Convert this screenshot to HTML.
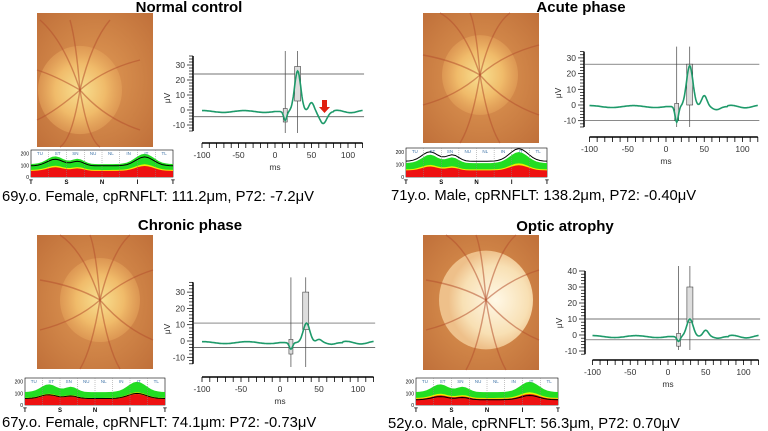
<!DOCTYPE html><html><head><meta charset="utf-8"><style>
body{margin:0;background:#fff;width:768px;height:431px;overflow:hidden;font-family:"Liberation Sans",sans-serif}
svg{position:absolute;left:0;top:0}
</style></head><body>
<svg id="s" width="768" height="431" xmlns="http://www.w3.org/2000/svg">
<defs>
<radialGradient id="f1" cx="0.5" cy="0.5" r="0.7"><stop offset="0" stop-color="#e09a55"/><stop offset="1" stop-color="#c0703a"/></radialGradient>
<radialGradient id="d1" cx="0.5" cy="0.5" r="0.5"><stop offset="0" stop-color="#f8e090"/><stop offset="0.6" stop-color="#f0bb6a"/><stop offset="1" stop-color="#e4a25a" stop-opacity="0.6"/></radialGradient>
<radialGradient id="d2" cx="0.6" cy="0.5" r="0.5"><stop offset="0" stop-color="#fff8e6"/><stop offset="0.7" stop-color="#f8e0b4"/><stop offset="1" stop-color="#eec08a"/></radialGradient>
</defs>
<g id="g"></g>
</svg>
<script>
var g=document.getElementById('g'),h='';
function T(x,y,t,sz,a,w,f){h+='<text x="'+x+'" y="'+y+'" font-size="'+sz+'" text-anchor="'+(a||'start')+'" font-weight="'+(w||'normal')+'" fill="'+(f||'#000')+'" font-family="Liberation Sans,sans-serif">'+t+'</text>';}
function fundus(x,y,w,hh,dx,dy,dr,grad){
 h+='<rect x="'+x+'" y="'+y+'" width="'+w+'" height="'+hh+'" fill="url(#f1)"/>';
 h+='<ellipse cx="'+dx+'" cy="'+dy+'" rx="'+dr+'" ry="'+(dr*1.05)+'" fill="url(#'+grad+')"/>';
 var v=[[-40,-70],[-10,-70],[30,-70],[60,-30],[60,40],[20,70],[-20,70],[-60,30],[-60,-20]];
 v.forEach(function(p){h+='<path d="M'+dx+' '+dy+' Q'+(dx+p[0]*0.4)+' '+(dy+p[1]*0.7)+' '+Math.max(x,Math.min(x+w,dx+p[0]))+' '+Math.max(y,Math.min(y+hh,dy+p[1]))+'" stroke="#b4502e" stroke-width="1.4" fill="none" opacity="0.55"/>';});
}
function oct(x,y,w,hh,lowBlack){
 var sec=['TU','ST','SN','NU','NL','IN','IT','TL'];
 h+='<rect x="'+x+'" y="'+y+'" width="'+w+'" height="'+hh+'" fill="#fff" stroke="#000" stroke-width="0.6"/>';
 function f(t,a){return a*(1+0.6*Math.exp(-Math.pow((t-0.17)/0.08,2))+0.4*Math.exp(-Math.pow((t-0.33)/0.06,2))+0.8*Math.exp(-Math.pow((t-0.8)/0.09,2)));}
 var b=y+hh,sc=hh/230;
 function poly(a,col,lw,fill){var p='';for(var i=0;i<=40;i++){var t=i/40;p+=(x+t*w).toFixed(1)+','+(b-f(t,a)*sc).toFixed(1)+' ';}
  if(fill)h+='<polygon points="'+x+','+b+' '+p+(x+w)+','+b+'" fill="'+col+'"/>';else h+='<polyline points="'+p+'" fill="none" stroke="'+col+'" stroke-width="'+lw+'"/>';}
 poly(110,'#22dd22',0,1);poly(60,'#eeee00',0,1);poly(52,'#ee1111',0,1);
 poly(lowBlack,'#000',1);
 for(var i=1;i<8;i++)h+='<line x1="'+(x+i*w/8)+'" y1="'+y+'" x2="'+(x+i*w/8)+'" y2="'+b+'" stroke="#888" stroke-dasharray="1,1" stroke-width="0.5"/>';
 sec.forEach(function(s,i){T(x+(i+0.5)*w/8,y+5,s,4.5,'middle','normal','#4477aa');});
 [0,100,200].forEach(function(v){T(x-2,b-v*sc+2,v,5,'end');});
 ['T','S','N','I','T'].forEach(function(s,i){T(x+i*w/4,b+7,s,6,'middle','bold');});
}
function chart(o){
 var ax=o.ax,Y=function(v){return o.y0-v*o.py},X=function(t){return o.x0+t*o.px};
 h+='<line x1="'+ax+'" y1="'+Y(o.ymax)+'" x2="'+ax+'" y2="'+Y(o.ymin)+'" stroke="#000" stroke-width="1.5"/>';
 for(var v=Math.ceil(o.ymin/2)*2;v<=o.ymax;v+=2){var L=(v%10==0)?6:4;h+='<line x1="'+ax+'" y1="'+Y(v)+'" x2="'+(ax-L)+'" y2="'+Y(v)+'" stroke="#000" stroke-width="0.7"/>';}
 for(var v=Math.ceil(o.ymin/10)*10;v<=o.ymax;v+=10)T(ax-8,Y(v)+3,v,8.5,'end','normal','#333');
 h+='<text x="0" y="0" font-size="8.5" fill="#333" transform="translate('+(ax-23)+','+(o.y0-12)+') rotate(-90)" text-anchor="middle">μV</text>';
 h+='<line x1="'+X(-100)+'" y1="'+o.xy+'" x2="'+X(120)+'" y2="'+o.xy+'" stroke="#000" stroke-width="1.5"/>';
 for(var t=-100;t<=120;t+=10)h+='<line x1="'+X(t)+'" y1="'+o.xy+'" x2="'+X(t)+'" y2="'+(o.xy+5)+'" stroke="#000" stroke-width="0.8"/>';
 [-100,-50,0,50,100].forEach(function(t){T(X(t),o.xy+15,t,8.5,'middle','normal','#333');});
 T(X(0),o.xy+27,'ms',8.5,'middle','normal','#333');
 o.hl.forEach(function(v){h+='<line x1="'+ax+'" y1="'+Y(v)+'" x2="'+X(122)+'" y2="'+Y(v)+'" stroke="#444" stroke-width="0.7"/>';});
 o.vl.forEach(function(t){h+='<line x1="'+X(t)+'" y1="'+(Y(o.ymax)-5)+'" x2="'+X(t)+'" y2="'+(o.xy-10)+'" stroke="#444" stroke-width="0.7"/>';});
 h+='<rect x="'+(X(o.vl[0])-2)+'" y="'+Y(o.b1[1])+'" width="4" height="'+((o.b1[1]-o.b1[0])*o.py)+'" fill="#ddd" stroke="#444" stroke-width="0.6"/>';
 h+='<rect x="'+(X(o.vl[1])-3)+'" y="'+Y(o.b2[1])+'" width="6" height="'+((o.b2[1]-o.b2[0])*o.py)+'" fill="#ddd" stroke="#444" stroke-width="0.6"/>';
 var p='';for(var t=-100;t<=120;t+=1){var v=o.w(t);p+=X(t).toFixed(1)+','+Y(v).toFixed(1)+' ';}
 h+='<polyline points="'+p+'" fill="none" stroke="#1e9a6a" stroke-width="1.6"/>';
}
function G(t,c,s){return Math.exp(-Math.pow((t-c)/s,2));}
function wave(n,p,w2,d,pk){pk=pk||31;return function(t){return -1+0.6*Math.sin(t/9)*(t<0?1:0)-n*G(t,14,3)+p*G(t,pk,6)+w2*G(t,50,5)-d*G(t,66,7)+(t>80?0.8*Math.sin(t/6):0);};}
// panel 1
T(189,12,'Normal control',15,'middle','bold');
fundus(37,13,116,134,80,90,42,'d1');
oct(31,150,142,27,95);
T(2,201,'69y.o. Female, cpRNFLT: 111.2μm, P72: -7.2μV',14.8);
chart({ax:193,y0:110,py:1.5,ymin:-14,ymax:36,xy:143,x0:275,px:0.73,hl:[24,-4.5],vl:[14,31],b1:[-8,1],b2:[6,29],w:wave(6,27,6,8)});
h+='<path d="M322 100 h5 v7 h3 l-5.5 6 l-5.5 -6 h3z" fill="#e02010"/>';
// panel 2
T(581,12,'Acute phase',15,'middle','bold');
fundus(423,13,116,130,480,75,38,'d1');
oct(406,148,141,29,125);
T(391,200,'71y.o. Male, cpRNFLT: 138.2μm, P72: -0.40μV',14.8);
chart({ax:584,y0:105,py:1.57,ymin:-14,ymax:34,xy:137,x0:666,px:0.765,hl:[26,-10],vl:[14,31],b1:[-10,1],b2:[0,26],w:wave(10,26,7,2)});
// panel 3
T(190,230,'Chronic phase',15,'middle','bold');
fundus(37,235,116,134,100,300,40,'d1');
oct(25,378,140,27,55);
T(2,427,'67y.o. Female, cpRNFLT: 74.1μm: P72: -0.73μV',14.8);
chart({ax:193,y0:341,py:1.63,ymin:-14,ymax:36,xy:377,x0:280,px:0.78,hl:[11,-4],vl:[14,33],b1:[-8,1],b2:[7,30],w:wave(4,12,2,1,34)});
// panel 4
T(565,231,'Optic atrophy',15,'middle','bold');
fundus(423,235,116,135,486,300,47,'d2');
oct(416,378,142,27,45);
T(388,428,'52y.o. Male, cpRNFLT: 56.3μm, P72: 0.70μV',14.8);
chart({ax:585,y0:335,py:1.6,ymin:-12,ymax:40,xy:360,x0:668,px:0.755,hl:[10,-3],vl:[14,29],b1:[-7,1],b2:[8,30],w:wave(3,11,4,1,29)});
g.innerHTML=h;
</script>
</body></html>
